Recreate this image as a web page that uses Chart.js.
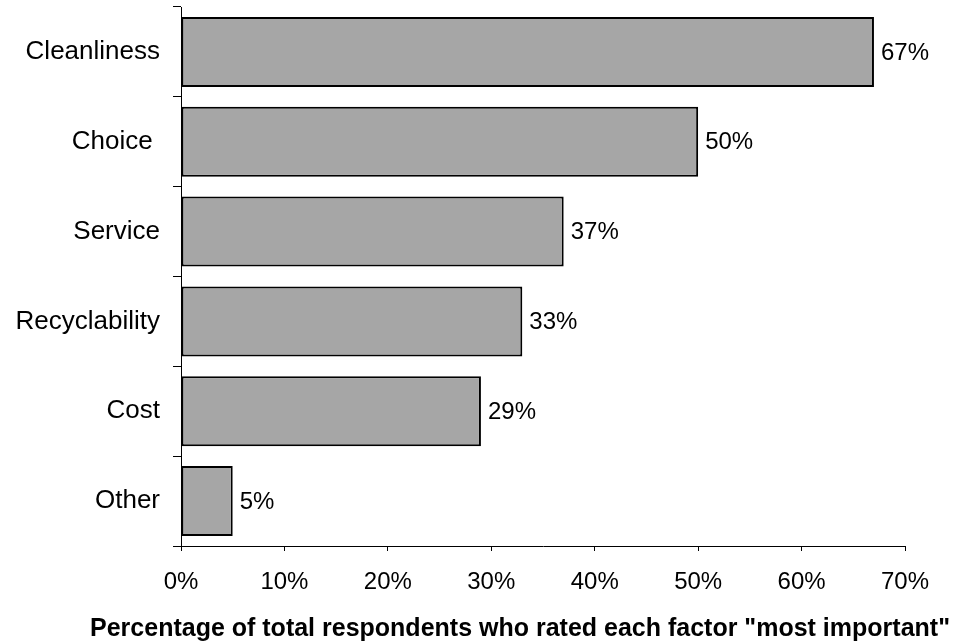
<!DOCTYPE html>
<html>
<head>
<meta charset="utf-8">
<script src="https://cdn.jsdelivr.net/npm/chart.js@4"></script>
<style>
  html, body { margin: 0; padding: 0; background: #fff; }
  #wrap { width: 955px; height: 644px; }
</style>
</head>
<body>
<div id="wrap"><canvas id="bar_chart" width="955" height="644"></canvas></div>
<script>
'use strict';

// Data
const categories = ['Cleanliness', 'Choice ', 'Service', 'Recyclability', 'Cost', 'Other'];
const shares = [67, 50, 37, 33, 29, 5];
const xTicks = [0, 10, 20, 30, 40, 50, 60, 70];
const axisTitle = 'Percentage of total respondents who rated each factor "most important"';

const fontFamily = '"Liberation Sans", Arial, sans-serif';

// Value labels at the end of each bar
const valueLabels = {
  id: 'valueLabels',
  afterDatasetsDraw(chart) {
    const ctx = chart.ctx;
    const meta = chart.getDatasetMeta(0);
    ctx.save();
    ctx.font = '24px ' + fontFamily;
    ctx.fillStyle = '#000';
    ctx.textAlign = 'left';
    ctx.textBaseline = 'middle';
    meta.data.forEach((bar, i) => {
      ctx.fillText(shares[i] + '%', bar.x + 7, bar.y + 1);
    });
    ctx.restore();
  }
};

// Axis title, wider than the plot area so drawn by hand
const bottomTitle = {
  id: 'bottomTitle',
  afterDraw(chart) {
    const ctx = chart.ctx;
    ctx.save();
    ctx.font = 'bold 25px ' + fontFamily;
    ctx.fillStyle = '#000';
    ctx.textAlign = 'center';
    ctx.textBaseline = 'middle';
    ctx.fillText(axisTitle, 520, 629);
    ctx.restore();
  }
};

new Chart(document.querySelector('#bar_chart'), {
  type: 'bar',
  data: {
    labels: categories,
    datasets: [{
      data: shares,
      backgroundColor: '#a6a6a6',
      borderColor: '#000',
      borderWidth: 2,
      borderSkipped: false,
      barPercentage: 0.78,
      categoryPercentage: 1
    }]
  },
  options: {
    indexAxis: 'y',
    responsive: false,
    animation: false,
    layout: {
      padding: { top: 7, right: 50, bottom: 0, left: 0 }
    },
    plugins: {
      legend: { display: false },
      tooltip: { enabled: false }
    },
    scales: {
      x: {
        min: 0,
        max: 70,
        afterFit(scale) { scale.height = 98; },
        afterBuildTicks(scale) {
          scale.ticks = xTicks.map(v => ({ value: v }));
        },
        grid: {
          drawOnChartArea: false,
          drawTicks: true,
          tickLength: 5,
          color: '#000'
        },
        border: { color: '#000', width: 1 },
        ticks: {
          color: '#000',
          font: { family: fontFamily, size: 24 },
          padding: 17,
          maxRotation: 0,
          callback: v => v + '%'
        }
      },
      y: {
        afterFit(scale) {
          scale.width = 181;
          scale.paddingTop = 0;
          scale.paddingBottom = 0;
        },
        grid: {
          drawOnChartArea: false,
          drawTicks: true,
          tickLength: 8,
          offset: true,
          color: '#000'
        },
        border: { color: '#000', width: 1 },
        ticks: {
          color: '#000',
          font: { family: fontFamily, size: 26 },
          padding: 13
        }
      }
    }
  },
  plugins: [valueLabels, bottomTitle]
});
</script>
</body>
</html>
